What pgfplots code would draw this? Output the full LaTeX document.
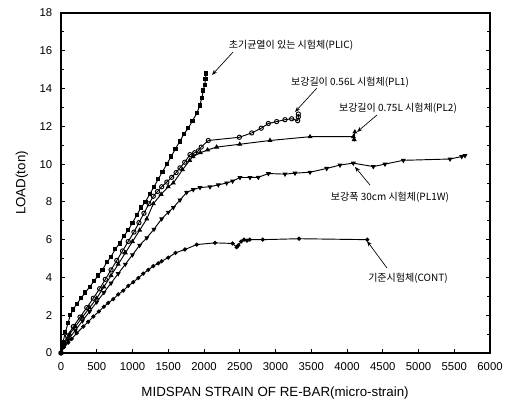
\documentclass[border=0pt]{standalone}
\usepackage{fontspec}
\setmainfont{Liberation Sans}
\newfontfamily\kr{Noto Sans CJK KR}
\usepackage{pgfplots}
\pgfplotsset{compat=1.18}
\usetikzlibrary{arrows.meta}

\begin{document}
\begin{tikzpicture}
\begin{axis}[
    width=321.75pt, height=255pt, scale only axis,
    xmin=0, xmax=6000, ymin=0, ymax=18,
    xtick={0,500,...,6000},
    ytick={0,2,...,18},
    minor y tick num=1,
    tick align=inside,
    xtick pos=left,
    ytick pos=both, yticklabel pos=left,
    major tick length=3pt, minor tick length=2pt,
    axis line style={line width=0.8pt},
    every tick/.style={black, line width=0.6pt},
    /pgf/number format/assume math mode=true,
    /pgf/number format/1000 sep={},
    tick label style={font=\fontsize{8.5}{10}\selectfont},
    xticklabel style={yshift=-4pt},
    yticklabel style={xshift=-3pt},
    xlabel={MIDSPAN STRAIN OF RE-BAR(micro-strain)},
    ylabel={LOAD(ton)},
    xlabel style={font=\fontsize{10}{12}\selectfont, at={(axis description cs:0.499,-0.1176)}, anchor=center},
    ylabel style={font=\fontsize{10}{12}\selectfont, at={(axis description cs:-0.0909,0.5)}, anchor=center},
    clip=false,
    every axis plot/.append style={black, line width=0.7pt},
]
% PLIC
\addplot[mark=square*, mark size=1.2pt] coordinates {
(0,0) (30,0.6) (60,1.1) (100,1.6) (130,2.0) (170,2.3) (220,2.6) (280,2.9)
(340,3.2) (400,3.5) (460,3.8) (520,4.1) (580,4.4) (640,4.8) (700,5.1)
(760,5.5) (820,5.8) (880,6.2) (940,6.5) (1000,6.9) (1060,7.3) (1120,7.7)
(1180,8.0) (1240,8.4) (1300,8.8) (1360,9.2) (1420,9.6) (1480,10.0)
(1540,10.4) (1600,10.8) (1660,11.2) (1720,11.6) (1780,11.9) (1840,12.3)
(1900,12.7) (1940,13.1) (1970,13.5) (1990,13.9) (2010,14.2) (2020,14.5) (2030,14.8)
};
% PL1
\addplot[mark=o, mark size=1.6pt, mark options={fill=white}] coordinates {
(0,0) (40,0.5) (90,0.9) (172,1.4) (266,1.9) (360,2.4) (452,2.9) (540,3.4)
(620,3.9) (700,4.4) (780,4.9) (860,5.4) (940,5.9) (1020,6.4) (1090,6.9)
(1160,7.4) (1230,7.9) (1291,8.3) (1350,8.55) (1408,8.8) (1480,9.05)
(1548,9.3) (1610,9.55) (1664,9.8) (1730,10.1) (1804,10.5) (1870,10.6)
(1920,10.7) (1960,10.9) (2060,11.25) (2494,11.42) (2667,11.65) (2800,11.9)
(2900,12.15) (3016,12.25) (3133,12.35) (3226,12.4) (3310,12.3) (3319,12.5) (3320,12.65)
};
% PL2
\addplot[mark=triangle*, mark size=1.5pt] coordinates {
(0,0) (50,0.5) (120,1.0) (200,1.4) (300,1.9) (400,2.4) (500,2.9) (600,3.5)
(700,4.1) (800,4.7) (900,5.3) (1000,5.9) (1100,6.5) (1200,7.1) (1291,7.9)
(1400,8.4) (1500,8.8) (1571,9.0) (1700,9.7) (1800,10.2) (1846,10.4)
(1950,10.6) (2050,10.75) (2177,10.9) (2500,11.05) (2923,11.25) (3483,11.45)
(4090,11.45) (4100,11.3) (4110,11.7)
};
% PL1W
\addplot[mark=triangle*, mark size=1.5pt, mark options={rotate=180}] coordinates {
(0,0) (50,0.4) (100,0.7) (200,1.2) (300,1.7) (400,2.2) (500,2.7) (600,3.2)
(700,3.7) (800,4.2) (900,4.7) (1000,5.2) (1100,5.7) (1200,6.1) (1300,6.55)
(1408,7.1) (1500,7.45) (1571,7.7) (1664,8.1) (1757,8.5) (1850,8.65)
(1944,8.76) (2084,8.8) (2200,8.9) (2317,9.0) (2400,9.1) (2503,9.29)
(2643,9.29) (2760,9.3) (2900,9.5) (3133,9.47) (3273,9.52) (3483,9.57)
(3716,9.77) (3902,9.95) (4088,10.05) (4368,9.87) (4531,10.0) (4788,10.2)
(5441,10.27) (5604,10.4) (5650,10.45)
};
% CONT
\addplot[mark=*, mark size=1.2pt] coordinates {
(0,0) (40,0.3) (100,0.55) (150,0.75) (220,1.05) (312,1.4) (380,1.65)
(452,1.93) (530,2.2) (600,2.45) (660,2.65) (731,2.85) (800,3.1) (870,3.3)
(940,3.55) (1010,3.75) (1081,3.97) (1150,4.2) (1220,4.4) (1290,4.6)
(1360,4.75) (1408,4.86) (1500,5.05) (1600,5.3) (1734,5.48) (1898,5.74)
(2154,5.83) (2400,5.8) (2457,5.6) (2480,5.7) (2520,5.9) (2560,6.0)
(2600,5.95) (2640,6.0) (2821,6.0) (3329,6.05) (4284,6.0)
};
% annotations
\begin{scope}[font=\kr\fontsize{7.5}{9}\selectfont]
\node at (axis cs:3217,16.3) {초기균열이 있는 시험체(PLIC)};
\node at (axis cs:4042,14.35) {보강길이 0.56L 시험체(PL1)};
\node at (axis cs:4713,12.97) {보강길이 0.75L 시험체(PL2)};
\node at (axis cs:4601,8.26) {보강폭 30cm 시험체(PL1W)};
\node at (axis cs:4853,3.97) {기준시험체(CONT)};
\end{scope}
\begin{scope}[-{Stealth[length=4pt,width=3pt]}, line width=0.5pt]
\draw (axis cs:2406,15.93) -- (axis cs:2112,14.72);
\draw (axis cs:3580,14.03) -- (axis cs:3273,12.76);
\draw (axis cs:4420,12.6) -- (axis cs:4140,11.7);
\draw (axis cs:4322,8.89) -- (axis cs:4112,9.85);
\draw (axis cs:4559,4.5) -- (axis cs:4280,5.93);
\end{scope}
\path (axis description cs:-0.1422,-0.1706) rectangle (axis description cs:1.0536,1.0382);
\end{axis}
\end{tikzpicture}
\end{document}
